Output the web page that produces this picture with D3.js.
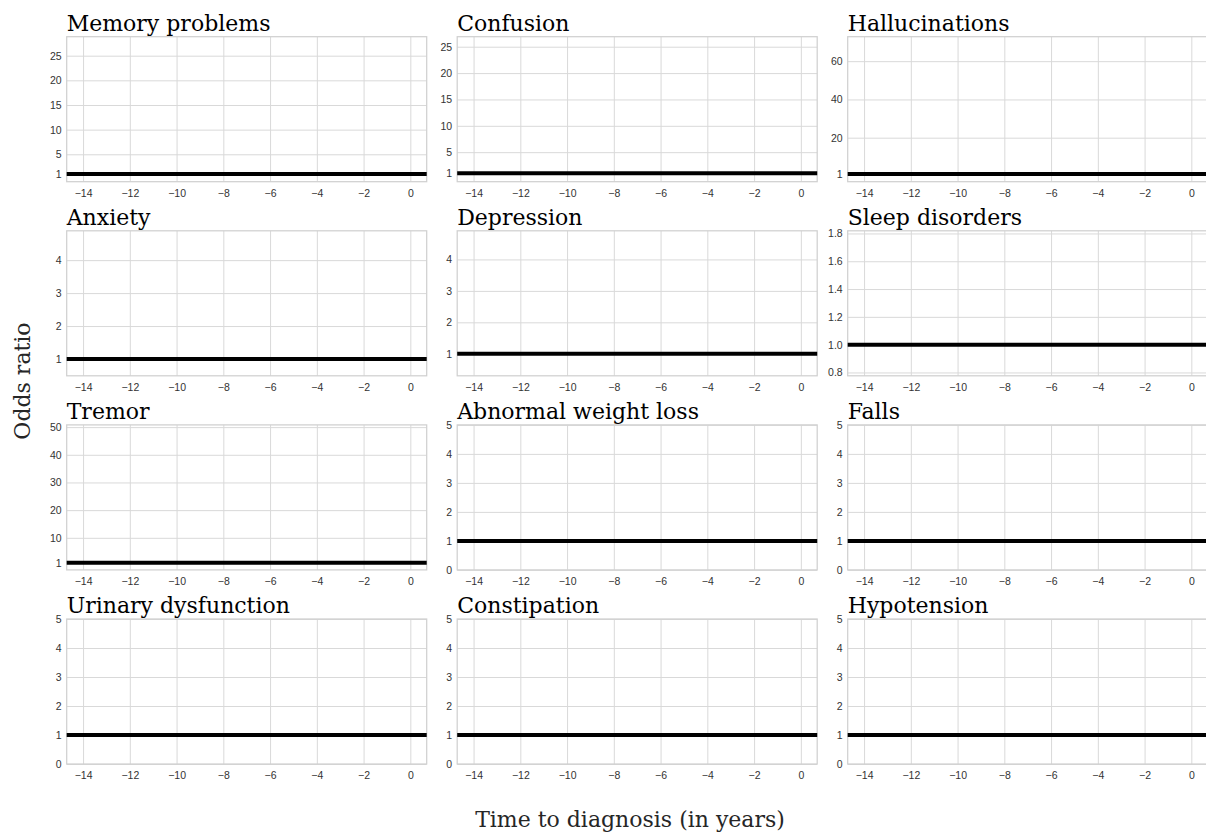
<!DOCTYPE html>
<html>
<head>
<meta charset="utf-8">
<script src="https://cdn.jsdelivr.net/npm/d3@7"></script>
<style>
  body { margin: 0; background: #fff; }
  .tick text { font-family: "Liberation Sans", Arial, sans-serif; font-size: 10.5px; fill: #333; }
  .title { font-family: "DejaVu Serif", serif; font-size: 22px; fill: #000; }
  .label { font-family: "DejaVu Serif", serif; font-size: 22px; fill: #262626; }
</style>
</head>
<body>
<div id="chart-area"></div>
<script>
// panel titles, left to right, top to bottom
const titles = [
  "Memory problems", "Confusion", "Hallucinations",
  "Anxiety", "Depression", "Sleep disorders",
  "Tremor", "Abnormal weight loss", "Falls",
  "Urinary dysfunction", "Constipation", "Hypotension"
];

// time to diagnosis (years)
const xDomain = [-14.7, 0.7];
const xTicks = [-14, -12, -10, -8, -6, -4, -2, 0];

// odds ratio axis of each panel
const yDomains = [
  [-0.56, 28.85], [-0.6, 26.9], [-3, 72.8],
  [0.49, 4.89], [0.3, 4.91], [0.776, 1.819],
  [-1.6, 50.8], [0, 5], [0, 5],
  [0, 5], [0, 5], [0, 5]
];
const yTicks = [
  [1, 5, 10, 15, 20, 25], [1, 5, 10, 15, 20, 25], [1, 20, 40, 60],
  [1, 2, 3, 4], [1, 2, 3, 4], [0.8, 1.0, 1.2, 1.4, 1.6, 1.8],
  [1, 10, 20, 30, 40, 50], [0, 1, 2, 3, 4, 5], [0, 1, 2, 3, 4, 5],
  [0, 1, 2, 3, 4, 5], [0, 1, 2, 3, 4, 5], [0, 1, 2, 3, 4, 5]
];
const yFormats = ["d", "d", "d", "d", "d", ".1f", "d", "d", "d", "d", "d", "d"];

// reference odds ratio line of each panel
const oddsRatio = [1, 1, 1, 1, 1, 1, 1, 1, 1, 1, 1, 1];

let width = 1206,
  height = 835,
  cols = 3,
  panelW = 360,
  panelH = 145,
  left0 = 66.7,
  top0 = 36.7,
  colStep = 390.5,
  rowStep = 194.1;

let svg = d3.select("#chart-area").append("svg")
  .attr("width", width)
  .attr("height", height);

let x = d3.scaleLinear().domain(xDomain).range([0, panelW]);

titles.forEach(function (title, i) {
  let col = i % cols,
    row = Math.floor(i / cols);

  let g = svg.append("g")
    .attr("transform", "translate(" + (left0 + col * colStep) + "," + (top0 + row * rowStep) + ")");

  let y = d3.scaleLinear().domain(yDomains[i]).range([panelH, 0]);

  // grid + tick labels
  let xAxis = g.append("g")
    .attr("transform", "translate(0," + panelH + ")")
    .call(d3.axisBottom(x).tickValues(xTicks).tickSize(-panelH).tickPadding(8));

  let yAxis = g.append("g")
    .call(d3.axisLeft(y).tickValues(yTicks[i]).tickFormat(d3.format(yFormats[i])).tickSize(-panelW).tickPadding(5));

  [xAxis, yAxis].forEach(function (a) {
    a.select(".domain").remove();
    a.selectAll(".tick line").attr("stroke", "#d9d9d9").attr("stroke-width", 1);
  });

  g.append("rect")
    .attr("width", panelW)
    .attr("height", panelH)
    .attr("fill", "none")
    .attr("stroke", "#d0d0d0")
    .attr("stroke-width", 1.25);

  let line = d3.line()
    .x(function (d) { return x(d[0]); })
    .y(function (d) { return y(d[1]); });

  g.append("path")
    .datum(xDomain.map(function (t) { return [t, oddsRatio[i]]; }))
    .attr("d", line)
    .attr("fill", "none")
    .attr("stroke", "#000")
    .attr("stroke-width", 4);

  g.append("text")
    .attr("class", "title")
    .attr("x", 0)
    .attr("y", -6)
    .text(title);
});

svg.append("text")
  .attr("class", "label")
  .attr("text-anchor", "middle")
  .attr("transform", "translate(30,381) rotate(-90)")
  .text("Odds ratio");

svg.append("text")
  .attr("class", "label")
  .attr("text-anchor", "middle")
  .attr("x", 630)
  .attr("y", 827)
  .text("Time to diagnosis (in years)");
</script>
</body>
</html>
